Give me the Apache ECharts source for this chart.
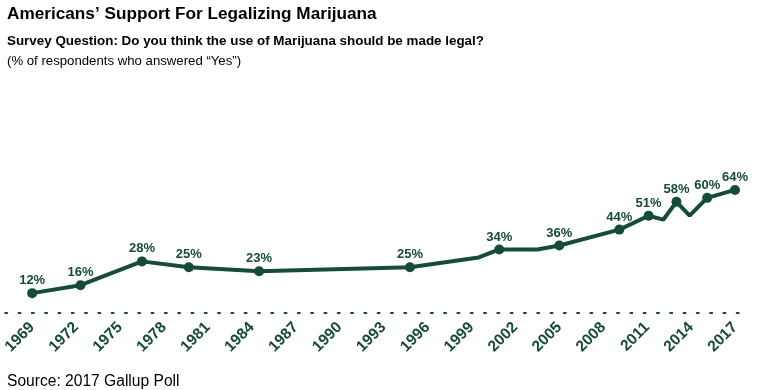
<!DOCTYPE html>
<html>
<head>
<meta charset="utf-8">
<script src="https://cdn.jsdelivr.net/npm/echarts@6/dist/echarts.min.js"></script>
<style>
html,body{margin:0;padding:0;background:#fff;}
#c{width:761px;height:390px;}
</style>
</head>
<body>
<div id="c"></div>
<script>
// Data
var years = [1969, 1972.3, 1976.5, 1979.7, 1984.5, 1994.8, 1999.5, 2000.9, 2003.5, 2005, 2009.1, 2011.1, 2012.1, 2013, 2013.9, 2015.1, 2017];
var values = [12, 16, 28, 25, 23, 25, 30, 34, 34, 36, 44, 51, 49, 58, 51, 60, 64];
var showLabel = [1, 1, 1, 1, 1, 1, 0, 1, 0, 1, 1, 1, 0, 1, 0, 1, 1];
var tickYears = [1969, 1972, 1975, 1978, 1981, 1984, 1987, 1990, 1993, 1996, 1999, 2002, 2005, 2008, 2011, 2014, 2017];

var titleText = 'Americans\u2019 Support For Legalizing Marijuana';
var questionText = 'Survey Question: Do you think the use of Marijuana should be made legal?';
var noteText = '(% of respondents who answered \u201cYes\u201d)';
var sourceText = 'Source: 2017 Gallup Poll';

var green = '#164b37';
var font = '"Liberation Sans", Arial, Helvetica, sans-serif';

var seriesData = years.map(function (y, i) {
  return {
    value: [y, values[i]],
    label: { show: !!showLabel[i] }
  };
});

var chart = echarts.init(document.getElementById('c'), null, { renderer: 'canvas' });
chart.setOption({
  animation: false,
  backgroundColor: '#ffffff',
  title: [
    { text: titleText, left: 2, top: 1, textStyle: { fontFamily: font, fontSize: 17.2, fontWeight: 'bold', color: '#000' } },
    { text: questionText, left: 2, top: 30, textStyle: { fontFamily: font, fontSize: 13.4, fontWeight: 'bold', color: '#000' } },
    { text: noteText, left: 2, top: 50, textStyle: { fontFamily: font, fontSize: 13.2, fontWeight: 'normal', color: '#000' } },
    { text: sourceText, left: 2, top: 369, textStyle: { fontFamily: font, fontSize: 15.6, fontWeight: 'normal', color: '#000' } }
  ],
  grid: { left: 2, right: 15, top: 178, bottom: 77, containLabel: false },
  xAxis: {
    type: 'value',
    min: 1967.16,
    max: 2017.75,
    splitLine: { show: false },
    axisTick: { show: false },
    axisLine: { show: true, lineStyle: { color: green, width: 2, type: [2, 11.3] } },
    axisLabel: {
      customValues: tickYears,
      rotate: 45,
      margin: 12,
      color: green,
      fontFamily: font,
      fontSize: 15.5,
      fontWeight: 'bold',
      formatter: function (v) { return String(v); }
    }
  },
  yAxis: {
    type: 'value',
    min: 2,
    max: 70,
    show: false,
    splitLine: { show: false }
  },
  series: [{
    type: 'line',
    data: seriesData,
    symbolSize: 10,
    showAllSymbol: true,
    symbol: function (val, params) { return showLabel[params.dataIndex] ? 'circle' : 'none'; },
    lineStyle: { color: green, width: 4 },
    itemStyle: { color: green },
    label: {
      position: 'top',
      distance: 1,
      color: green,
      fontFamily: font,
      fontSize: 13,
      fontWeight: 'bold',
      formatter: function (p) { return p.value[1] + '%'; }
    }
  }]
});
</script>
</body>
</html>
